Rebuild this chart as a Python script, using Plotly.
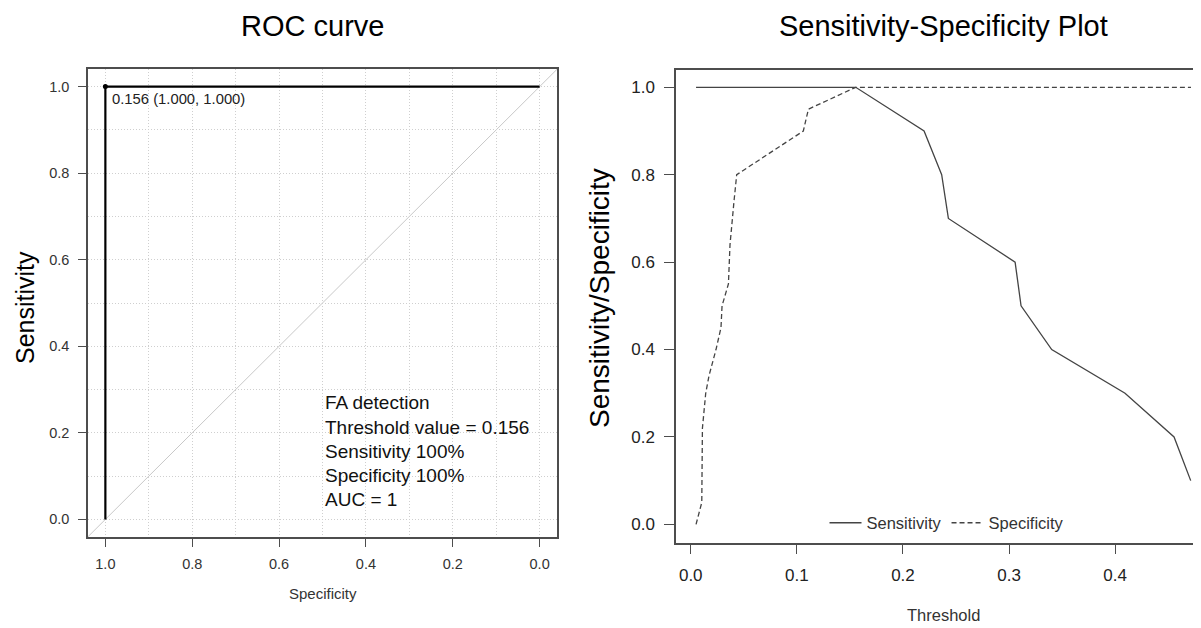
import plotly.graph_objects as go

# ---------------- data ----------------
# ROC curve (left)
roc_specificity = [1.0, 1.0, 0.0]
roc_sensitivity = [0.0, 1.0, 1.0]
best_specificity = [1.0]
best_sensitivity = [1.0]
best_label = "0.156 (1.000, 1.000)"
roc_info_lines = ["FA detection", "Threshold value = 0.156", "Sensitivity 100%",
                  "Specificity 100%", "AUC = 1"]
roc_info_y = [0.270, 0.212, 0.157, 0.101, 0.046]
roc_ticks = [0.0, 0.2, 0.4, 0.6, 0.8, 1.0]
roc_ticktext = ["0.0", "0.2", "0.4", "0.6", "0.8", "1.0"]

# Sensitivity-specificity vs threshold (right)
thr_sens = [0.005, 0.1555, 0.2199, 0.2365, 0.2428, 0.3057, 0.3113, 0.3402, 0.4093, 0.4555, 0.4712]
sensitivity = [1.0, 1.0, 0.9, 0.8, 0.7, 0.6, 0.5, 0.4, 0.3, 0.2, 0.1]
thr_spec = [0.005, 0.0104, 0.0110, 0.0141, 0.0172, 0.0238, 0.0285, 0.0295, 0.0355,
            0.0370, 0.0408, 0.0433, 0.1061, 0.1109, 0.1555, 0.4715]
specificity = [0.00, 0.05, 0.22, 0.30, 0.34, 0.40, 0.45, 0.50, 0.55,
               0.64, 0.74, 0.80, 0.90, 0.95, 1.00, 1.00]
thr_ticks = [0.0, 0.1, 0.2, 0.3, 0.4]
thr_ticktext = ["0.0", "0.1", "0.2", "0.3", "0.4"]
sp_ticks = [0.0, 0.2, 0.4, 0.6, 0.8, 1.0]
sp_ticktext = ["0.0", "0.2", "0.4", "0.6", "0.8", "1.0"]

# ---------------- figure ----------------
# the page body adds an 8px margin, so the figure is 8px smaller and positions are offset
OFF = 8
W, H = 1201 - OFF, 628 - OFF
FONT = "Arial, 'Liberation Sans', sans-serif"
FRAME = "#4d4d4d"


def px(x):
    return (x - OFF) / W


def py(y):
    return 1 - (y - OFF) / H


fig = go.Figure()

# left panel traces
fig.add_trace(go.Scatter(x=roc_specificity, y=roc_sensitivity, mode="lines",
                         line=dict(color="black", width=2.2), showlegend=False,
                         xaxis="x", yaxis="y", hoverinfo="skip"))
fig.add_trace(go.Scatter(x=best_specificity, y=best_sensitivity, mode="markers",
                         marker=dict(color="black", size=5), showlegend=False,
                         xaxis="x", yaxis="y", hoverinfo="skip"))

# right panel traces
fig.add_trace(go.Scatter(x=thr_sens, y=sensitivity, mode="lines", name="Sensitivity",
                         line=dict(color="#444444", width=1.3),
                         xaxis="x2", yaxis="y2", legend="legend"))
fig.add_trace(go.Scatter(x=thr_spec, y=specificity, mode="lines", name="Specificity",
                         line=dict(color="#444444", width=1.3, dash="5px,3px"),
                         xaxis="x2", yaxis="y2", legend="legend"))

# domains (pixel based)
lx0, lx1 = px(88), px(557)
ly0, ly1 = py(536.7), py(69.3)
rx0, rx1 = px(676), 1.0
ry0, ry1 = py(542.7), py(70)

tickfont_l = dict(family=FONT, size=14.5, color="#333333")
tickfont_r = dict(family=FONT, size=17, color="#222222")
GRID = "#cfcfcf"
GDASH = "1px,2px"

fig.update_layout(
    width=W, height=H,
    margin=dict(l=0, r=0, t=0, b=0),
    paper_bgcolor="white", plot_bgcolor="white",
    font=dict(family=FONT, color="#222222"),
    xaxis=dict(domain=[lx0, lx1], range=[1.04, -0.04], anchor="y",
               tickmode="array", tickvals=roc_ticks, ticktext=roc_ticktext,
               ticks="outside", ticklen=9, tickwidth=1.3, tickcolor=FRAME,
               tickfont=tickfont_l, ticklabelstandoff=4,
               showline=True, linecolor=FRAME, linewidth=1.5, mirror=True,
               showgrid=True, gridcolor=GRID, gridwidth=1, griddash=GDASH,
               minor=dict(dtick=0.1, tick0=0, showgrid=True, gridcolor=GRID,
                          griddash=GDASH, ticks=""),
               zeroline=False),
    yaxis=dict(domain=[ly0, ly1], range=[-0.04, 1.04], anchor="x",
               tickmode="array", tickvals=roc_ticks, ticktext=roc_ticktext,
               ticks="outside", ticklen=8, tickwidth=1.3, tickcolor=FRAME,
               tickfont=tickfont_l, ticklabelstandoff=6,
               showline=True, linecolor=FRAME, linewidth=1.5, mirror=True,
               showgrid=True, gridcolor=GRID, gridwidth=1, griddash=GDASH,
               minor=dict(dtick=0.1, tick0=0, showgrid=True, gridcolor=GRID,
                          griddash=GDASH, ticks=""),
               zeroline=False),
    xaxis2=dict(domain=[rx0, rx1], range=[-0.0139, 0.4809], anchor="y2",
                tickmode="array", tickvals=thr_ticks, ticktext=thr_ticktext,
                ticks="outside", ticklen=10, tickwidth=1.3, tickcolor=FRAME,
                tickfont=tickfont_r, ticklabelstandoff=6,
                showline=True, linecolor=FRAME, linewidth=1.5, mirror=True,
                showgrid=False, zeroline=False),
    yaxis2=dict(domain=[ry0, ry1], range=[-0.042, 1.0396], anchor="x2",
                tickmode="array", tickvals=sp_ticks, ticktext=sp_ticktext,
                ticks="outside", ticklen=10, tickwidth=1.3, tickcolor=FRAME,
                tickfont=tickfont_r, ticklabelstandoff=6,
                showline=True, linecolor=FRAME, linewidth=1.5, mirror=False,
                showgrid=False, zeroline=False),
    legend=dict(orientation="h", x=px(947), xanchor="center", y=py(523),
                yanchor="middle", bgcolor="rgba(0,0,0,0)",
                font=dict(family=FONT, size=16.5, color="#333333"),
                itemwidth=32, tracegroupgap=0),
    showlegend=True,
)

# chance diagonal (corner to corner of left plot region)
fig.add_shape(type="line", xref="x domain", yref="y domain", x0=0, y0=0, x1=1, y1=1,
              line=dict(color="#c8c8c8", width=1), layer="below")

annotations = []
# best threshold label
annotations.append(dict(x=best_specificity[0], y=best_sensitivity[0], xref="x", yref="y",
                        text=best_label, showarrow=False, xanchor="left", yanchor="top",
                        xshift=5, yshift=-2,
                        font=dict(family=FONT, size=14.8, color="#222222")))
# info text
for line, yy in zip(roc_info_lines, roc_info_y):
    annotations.append(dict(x=0.5, y=yy, xref="x", yref="y", text=line, showarrow=False,
                            xanchor="left", yanchor="middle",
                            font=dict(family=FONT, size=19, color="#111111")))
# titles
annotations.append(dict(x=px(312.5), y=py(26), xref="paper", yref="paper",
                        text="ROC curve", showarrow=False, xanchor="center", yanchor="middle",
                        font=dict(family=FONT, size=29, color="black")))
annotations.append(dict(x=px(943), y=py(26), xref="paper", yref="paper",
                        text="Sensitivity-Specificity Plot", showarrow=False,
                        xanchor="center", yanchor="middle",
                        font=dict(family=FONT, size=29, color="black")))
# axis titles
annotations.append(dict(x=px(25), y=py(308), xref="paper", yref="paper",
                        text="Sensitivity", showarrow=False, textangle=-90,
                        xanchor="center", yanchor="middle",
                        font=dict(family=FONT, size=25, color="black")))
annotations.append(dict(x=px(322.5), y=py(593), xref="paper", yref="paper",
                        text="Specificity", showarrow=False,
                        xanchor="center", yanchor="middle",
                        font=dict(family=FONT, size=15, color="#333333")))
annotations.append(dict(x=px(599), y=py(298), xref="paper", yref="paper",
                        text="Sensitivity/Specificity", showarrow=False, textangle=-90,
                        xanchor="center", yanchor="middle",
                        font=dict(family=FONT, size=28, color="black")))
annotations.append(dict(x=px(943), y=py(615), xref="paper", yref="paper",
                        text="Threshold", showarrow=False,
                        xanchor="center", yanchor="middle",
                        font=dict(family=FONT, size=16.5, color="#333333")))
fig.update_layout(annotations=annotations)

fig.write_html("out.html")
